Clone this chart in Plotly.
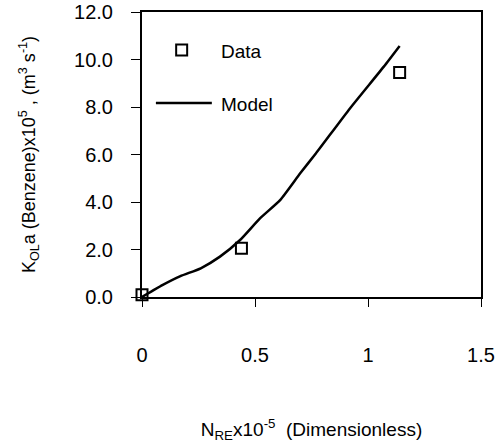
import plotly.graph_objects as go

# Data
data_x = [0.0, 0.44, 1.14]
data_y = [0.1, 2.05, 9.45]

model_x = [0.0, 0.09, 0.17, 0.26, 0.345, 0.434, 0.522, 0.611, 0.70, 0.77, 0.92, 1.07, 1.14]
model_y = [0.0, 0.50, 0.88, 1.21, 1.70, 2.40, 3.31, 4.08, 5.21, 6.05, 7.94, 9.70, 10.57]

x_ticks = [0, 0.5, 1, 1.5]
x_ticklabels = ["0", "0.5", "1", "1.5"]
y_ticks = [0, 2, 4, 6, 8, 10, 12]
y_ticklabels = ["0.0", "2.0", "4.0", "6.0", "8.0", "10.0", "12.0"]

FONT = "Liberation Sans, Arial, sans-serif"

fig = go.Figure()
fig.add_trace(go.Scatter(
    x=model_x, y=model_y, mode="lines", name="Model",
    line=dict(color="black", width=2.5, shape="spline", smoothing=0.5),
    showlegend=False,
))
fig.add_trace(go.Scatter(
    x=data_x, y=data_y, mode="markers", name="Data",
    marker=dict(symbol="square-open", size=11, color="black",
                line=dict(color="black", width=2)),
    showlegend=False, cliponaxis=False,
))

# Manual legend (paper coordinates)
fig.add_shape(type="rect", xref="paper", yref="paper",
              xsizemode="pixel", ysizemode="pixel",
              xanchor=0.117, yanchor=0.867, x0=-5.5, x1=5.5, y0=-5.5, y1=5.5,
              line=dict(color="black", width=2), fillcolor="white")
fig.add_shape(type="line", xref="paper", yref="paper",
              x0=0.041, x1=0.206, y0=0.681, y1=0.681,
              line=dict(color="black", width=2.5))
fig.add_annotation(text="Data", xref="paper", yref="paper", x=0.226, y=0.862,
                   xanchor="left", yanchor="middle", showarrow=False,
                   font=dict(family=FONT, size=19, color="black"))
fig.add_annotation(text="Model", xref="paper", yref="paper", x=0.226, y=0.676,
                   xanchor="left", yanchor="middle", showarrow=False,
                   font=dict(family=FONT, size=19, color="black"))

fig.update_layout(
    width=503, height=446,
    margin=dict(l=142, r=22, t=12, b=149, autoexpand=False),
    paper_bgcolor="white", plot_bgcolor="white",
    font=dict(family=FONT, size=20, color="black"),
)
fig.update_xaxes(
    range=[0, 1.5], tickvals=x_ticks, ticktext=x_ticklabels,
    showgrid=False, zeroline=False,
    showline=True, linecolor="black", linewidth=2, mirror=True,
    ticks="outside", ticklen=8, tickwidth=1, tickcolor="black",
    ticklabelstandoff=31,
    title=dict(text="N<sub>RE</sub>x10<sup>-5</sup>\u00a0\u00a0(Dimensionless)",
               font=dict(size=19), standoff=58),
    automargin=False,
)
fig.update_yaxes(
    range=[0, 12], tickvals=y_ticks, ticktext=y_ticklabels,
    showgrid=False, zeroline=False,
    showline=True, linecolor="black", linewidth=2, mirror=True,
    ticks="outside", ticklen=9, tickwidth=1, tickcolor="black",
    ticklabelstandoff=14,
    title=dict(text="K<sub>OL</sub>a (Benzene)x10<sup>5</sup> , (m<sup>3</sup> s<sup>-1</sup>)",
               font=dict(size=18), standoff=34),
    automargin=False,
)

fig.write_html("out.html")
